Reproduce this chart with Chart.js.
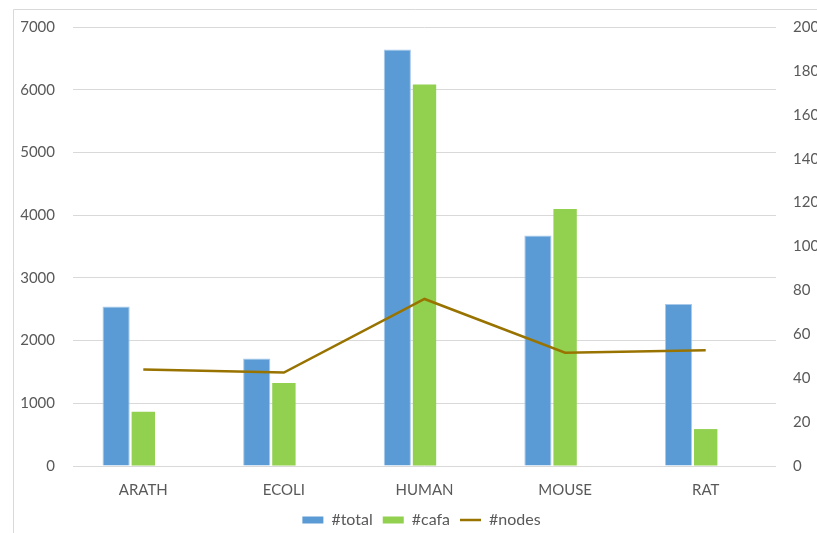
<!DOCTYPE html>
<html>
<head>
<meta charset="utf-8">
<script src="https://cdn.jsdelivr.net/npm/chart.js@4/dist/chart.umd.min.js"></script>
<style>
  html, body { margin: 0; padding: 0; background: #ffffff; }
  #wrap { position: relative; width: 817px; height: 533px; }
</style>
</head>
<body>
<div id="wrap"><canvas id="c" width="817" height="533"></canvas></div>
<script>
// Species groups on the category axis
const categories = ['ARATH', 'ECOLI', 'HUMAN', 'MOUSE', 'RAT'];
// Protein counts (left axis)
const totalCounts = [2543, 1715, 6640, 3674, 2584];
const cafaCounts = [865, 1322, 6083, 4097, 589];
// Node counts (right axis)
const nodeCounts = [44.0, 42.6, 76.1, 51.6, 52.7];
// Axis tick settings
const leftMax = 7000, leftStep = 1000;
const rightMax = 200, rightStep = 20;

const FONT = 'Lato, "Open Sans", sans-serif';
const TEXT = '#595959';
const GRID = '#d9d9d9';

// Light frame around the chart, and the legend centred under the framed area
const framePlugin = {
  id: 'frame',
  afterLayout(chart) {
    const lg = chart.legend;
    if (lg) { lg.left += 13; lg.right += 13; }
  },
  beforeDraw(chart) {
    const ctx = chart.ctx;
    ctx.save();
    ctx.strokeStyle = GRID;
    ctx.lineWidth = 1;
    ctx.beginPath();
    ctx.moveTo(13.5, chart.height);
    ctx.lineTo(13.5, 9.5);
    ctx.lineTo(chart.width, 9.5);
    ctx.stroke();
    ctx.restore();
  }
};

const plain = v => String(v);

new Chart(document.getElementById('c'), {
  data: {
    labels: categories,
    datasets: [
      {
        type: 'line',
        label: '#nodes',
        data: nodeCounts,
        yAxisID: 'y1',
        borderColor: '#997300',
        backgroundColor: '#997300',
        borderWidth: 2.5,
        pointRadius: 0,
        tension: 0,
        order: 0
      },
      {
        type: 'bar',
        label: '#total',
        data: totalCounts,
        yAxisID: 'y',
        backgroundColor: '#5b9bd5',
        borderColor: '#a9c9ea',
        borderWidth: 1,
        barPercentage: 1.0,
        categoryPercentage: 0.58,
        order: 1
      },
      {
        type: 'bar',
        label: '#cafa',
        data: cafaCounts,
        yAxisID: 'y',
        backgroundColor: '#92d050',
        borderWidth: 0,
        barPercentage: 0.86,
        categoryPercentage: 0.58,
        order: 2
      },
      {
        // empty third slot in each bar group
        type: 'bar',
        label: '',
        data: categories.map(() => null),
        yAxisID: 'y',
        backgroundColor: 'rgba(0,0,0,0)',
        barPercentage: 1.0,
        categoryPercentage: 0.58,
        order: 3
      }
    ]
  },
  options: {
    responsive: false,
    animation: false,
    layout: { padding: { top: 14, left: 0, right: 0, bottom: -5 } },
    plugins: {
      tooltip: { enabled: false },
      legend: {
        position: 'bottom',
        labels: {
          color: TEXT,
          font: { family: FONT, size: 16 },
          usePointStyle: true,
          pointStyleWidth: 21,
          boxHeight: 7,
          padding: 10,
          generateLabels(chart) {
            const items = Chart.defaults.plugins.legend.labels.generateLabels(chart);
            const order = ['#total', '#cafa', '#nodes'];
            return items
              .filter(it => it.text !== '')
              .map(it => {
                const ds = chart.data.datasets[it.datasetIndex];
                if (ds.type === 'line') {
                  it.pointStyle = 'line';
                  it.strokeStyle = ds.borderColor;
                  it.lineWidth = 2.5;
                } else {
                  it.pointStyle = 'rect';
                  it.strokeStyle = ds.backgroundColor;
                  it.lineWidth = 0;
                }
                return it;
              })
              .sort((a, b) => order.indexOf(a.text) - order.indexOf(b.text));
          }
        }
      }
    },
    scales: {
      x: {
        grid: { display: false, drawTicks: false },
        border: { display: false },
        ticks: { color: TEXT, font: { family: FONT, size: 15 }, padding: 15 },
        afterFit(scale) { scale.height = 36; }
      },
      y: {
        position: 'left',
        min: 0,
        max: leftMax,
        ticks: { stepSize: leftStep, color: TEXT, font: { family: FONT, size: 15 }, padding: 18, callback: plain },
        grid: { color: GRID, lineWidth: 1, drawTicks: false },
        border: { display: false },
        afterFit(scale) { scale.width = 73; }
      },
      y1: {
        position: 'right',
        min: 0,
        max: rightMax,
        ticks: { stepSize: rightStep, color: TEXT, font: { family: FONT, size: 15 }, padding: 17, callback: plain },
        grid: { display: false, drawTicks: false },
        border: { display: false },
        afterFit(scale) { scale.width = 41; }
      }
    }
  },
  plugins: [framePlugin]
});
</script>
</body>
</html>
